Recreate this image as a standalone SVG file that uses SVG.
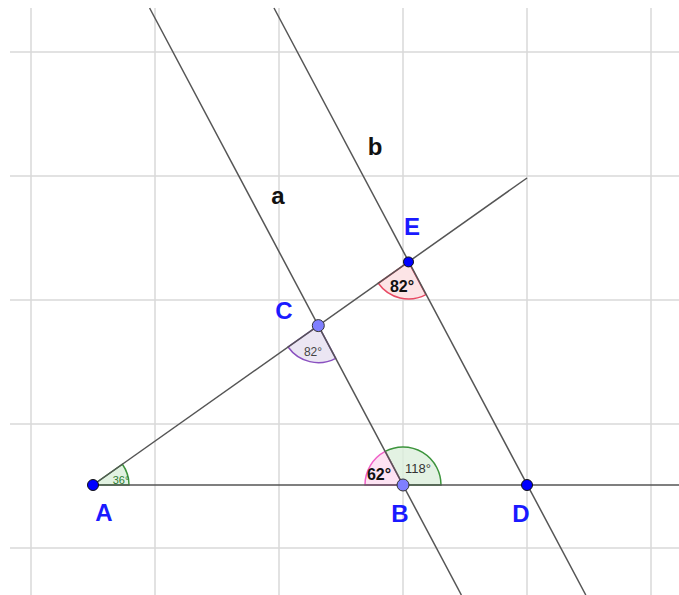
<svg xmlns="http://www.w3.org/2000/svg" width="679" height="595" viewBox="0 0 679 595">
<style>
.grid line{stroke:#d9d9d9;stroke-width:1.5}
.ln{stroke:#555;stroke-width:1.5;fill:none}
.lbl{font-family:"Liberation Sans",Arial,sans-serif;font-weight:bold;font-size:24px;fill:#1a1aff;text-anchor:middle}
.nm{font-family:"Liberation Sans",Arial,sans-serif;font-weight:bold;font-size:24px;fill:#111;text-anchor:middle}
.ang{font-family:"Liberation Sans",Arial,sans-serif;text-anchor:middle}
.pd{fill:#0000ff;stroke:#111;stroke-width:1}
.pl{fill:#7f7fff;stroke:#333;stroke-width:1}
</style>
<rect width="679" height="595" fill="#fff"/>
<g class="grid">
<line x1="31" y1="8" x2="31" y2="595"/>
<line x1="155" y1="8" x2="155" y2="595"/>
<line x1="279" y1="8" x2="279" y2="595"/>
<line x1="403" y1="8" x2="403" y2="595"/>
<line x1="527" y1="8" x2="527" y2="595"/>
<line x1="651" y1="8" x2="651" y2="595"/>
<line x1="10" y1="52" x2="679" y2="52"/>
<line x1="10" y1="176" x2="679" y2="176"/>
<line x1="10" y1="300" x2="679" y2="300"/>
<line x1="10" y1="424" x2="679" y2="424"/>
<line x1="10" y1="548" x2="679" y2="548"/>
</g>
<g id="angles">
<path id="angA" d="M93,485 L129,485 A36,36 0 0 0 122.4,464.2 Z" fill="#d9efd9" fill-opacity="0.8" stroke="#3c943c" stroke-width="1.5"/>
<path id="angB118" d="M403,485 L441,485 A38,38 0 0 0 385.2,451.4 Z" fill="#dcefdc" fill-opacity="0.8" stroke="#3c943c" stroke-width="1.5"/>
<path id="angB62" d="M403,485 L385.2,451.4 A38,38 0 0 0 365,485 Z" fill="#fde0f2" fill-opacity="0.9" stroke="#f060c8" stroke-width="1.5"/>
<path id="angC" d="M318.3,325.6 L288.1,347 A37,37 0 0 0 335.7,358.3 Z" fill="#ebe6f3" stroke="#8a50c0" stroke-width="1.5"/>
<path id="angE" d="M408.5,261.9 L378.3,283.3 A37,37 0 0 0 425.9,294.6 Z" fill="#fce4e6" stroke="#e84a64" stroke-width="1.5"/>
</g>
<g id="connectors">
<line class="ln" x1="93" y1="485" x2="679" y2="485"/>
<line class="ln" x1="93" y1="485" x2="527" y2="178"/>
<line id="a" class="ln" x1="149.6" y1="8" x2="461.4" y2="595"/>
<line id="b" class="ln" x1="274" y1="8" x2="585.8" y2="595"/>
</g>
<g id="angle-labels">
<text class="ang" x="121" y="484" font-size="11" fill="#2e7d32">36°</text>
<text class="ang" x="379" y="480" font-size="16" font-weight="bold" fill="#111">62°</text>
<text class="ang" x="418" y="473" font-size="13" fill="#333">118°</text>
<text class="ang" x="313" y="356" font-size="12" fill="#444">82°</text>
<text class="ang" x="402" y="292" font-size="16" font-weight="bold" fill="#111">82°</text>
</g>
<g id="line-labels">
<text class="nm" x="278" y="204">a</text>
<text class="nm" x="375" y="155">b</text>
</g>
<g id="A"><circle class="pd" cx="93" cy="485" r="5.5"/><text class="lbl" x="104" y="521">A</text></g>
<g id="B"><circle class="pl" cx="403" cy="485" r="6"/><text class="lbl" x="400" y="522">B</text></g>
<g id="D"><circle class="pd" cx="527" cy="485" r="5.5"/><text class="lbl" x="521" y="522">D</text></g>
<g id="C"><circle class="pl" cx="318.3" cy="325.6" r="6"/><text class="lbl" x="284" y="319">C</text></g>
<g id="E"><circle class="pd" cx="408.5" cy="261.9" r="5"/><text class="lbl" x="412" y="235">E</text></g>
</svg>
